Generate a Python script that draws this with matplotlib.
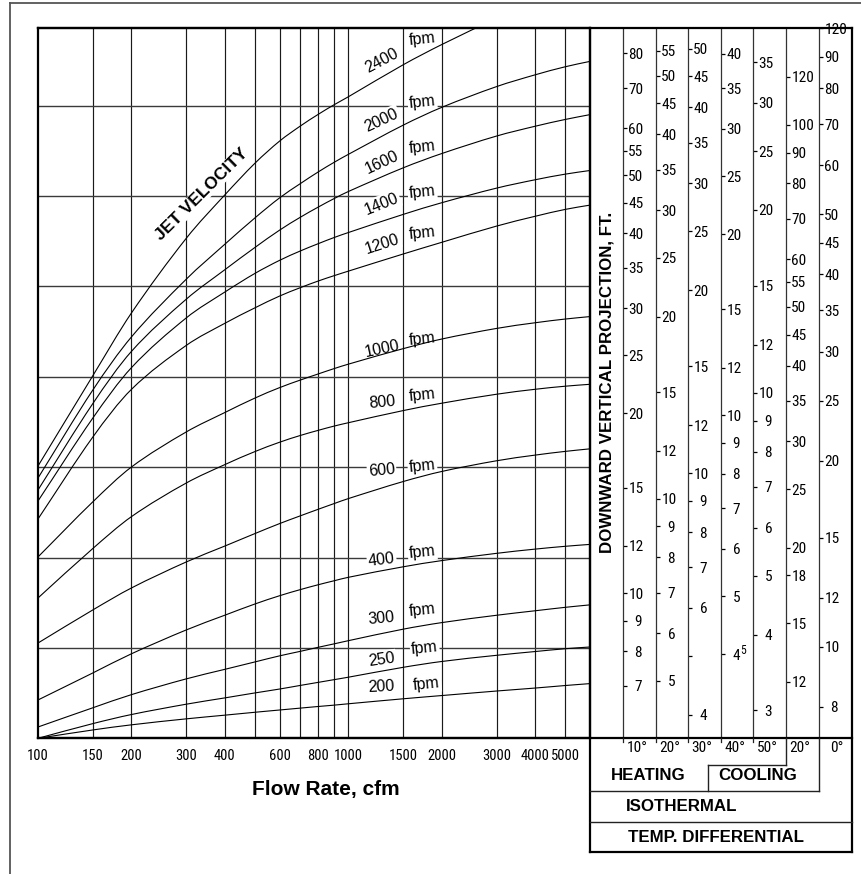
import os
import numpy as np
import matplotlib
matplotlib.use("Agg")
import matplotlib.pyplot as plt
from matplotlib import font_manager
from matplotlib.font_manager import FontProperties
from matplotlib.ticker import NullLocator
from matplotlib.path import Path
from matplotlib.patches import PathPatch

W, H, DPI = 861, 874, 100

_names = {f.name for f in font_manager.fontManager.ttflist}
SANS = "Liberation Sans" if "Liberation Sans" in _names else "DejaVu Sans"
SFAM = [SANS, "DejaVu Sans"]


def _find_condensed():
    prefs = ["liberationsansnarrow-regular", "liberationsansnarrow", "arialn", "robotocondensed-regular",
             "notosans-condensed", "opensans-condensed", "dejavusanscondensed"]
    found = {}
    for f in font_manager.fontManager.ttflist:
        base = os.path.splitext(os.path.basename(f.fname))[0].lower()
        found[base] = f.fname
    for p in prefs:
        if p in found:
            return found[p]
    for base, path in found.items():
        if ("condensed" in base or "narrow" in base) and not any(
                k in base for k in ("bold", "italic", "oblique", "light", "thin", "black", "medium", "semi", "extra")):
            return path
    return None


_COND = _find_condensed()


def nfp(size):
    if _COND:
        return FontProperties(fname=_COND, size=size)
    return FontProperties(family=SFAM, size=size * 0.84)


# ---------------- data ----------------
flow_cfm = [100, 150, 200, 300, 400, 500, 600, 700, 800, 900, 1000, 1500, 2000, 3000, 4000, 5000, 6000]
flow_ticks = [100, 150, 200, 300, 400, 600, 800, 1000, 1500, 2000, 3000, 4000, 5000]
flow_tick_labels = ["100", "150", "200", "300", "400", "600", "800", "1000", "1500", "2000", "3000", "4000", "5000"]
flow_grid = [150, 200, 300, 400, 500, 600, 700, 800, 900, 1000, 1500, 2000, 3000, 4000, 5000]

velocities = [200, 250, 300, 400, 600, 800, 1000, 1200, 1400, 1600, 2000, 2400]
# curve heights in chart grid units (one unit per horizontal grid line)
v200 = [0.000, 0.092, 0.149, 0.215, 0.256, 0.288, 0.313, 0.334, 0.352, 0.367, 0.382, 0.437, 0.473, 0.523, 0.556, 0.584, 0.605]
v250 = [0.000, 0.162, 0.263, 0.377, 0.447, 0.502, 0.545, 0.585, 0.619, 0.649, 0.676, 0.785, 0.850, 0.918, 0.960, 0.991, 1.010]
v300 = [0.125, 0.337, 0.483, 0.657, 0.763, 0.845, 0.912, 0.962, 1.007, 1.045, 1.080, 1.207, 1.280, 1.361, 1.411, 1.449, 1.476]
v400 = [0.424, 0.722, 0.935, 1.198, 1.362, 1.486, 1.577, 1.645, 1.699, 1.743, 1.781, 1.897, 1.966, 2.046, 2.093, 2.124, 2.145]
v600 = [1.054, 1.419, 1.663, 1.950, 2.127, 2.265, 2.375, 2.461, 2.534, 2.597, 2.652, 2.840, 2.952, 3.070, 3.133, 3.174, 3.202]
v800 = [1.552, 2.098, 2.452, 2.823, 3.028, 3.172, 3.275, 3.350, 3.407, 3.454, 3.491, 3.625, 3.707, 3.806, 3.861, 3.895, 3.916]
v1000 = [2.006, 2.614, 3.001, 3.388, 3.604, 3.764, 3.879, 3.963, 4.031, 4.090, 4.139, 4.310, 4.417, 4.534, 4.597, 4.638, 4.665]
v1200 = [2.426, 3.330, 3.860, 4.345, 4.591, 4.762, 4.892, 4.985, 5.059, 5.118, 5.168, 5.357, 5.487, 5.666, 5.775, 5.851, 5.898]
v1400 = [2.625, 3.540, 4.100, 4.649, 4.937, 5.143, 5.287, 5.391, 5.472, 5.540, 5.595, 5.795, 5.925, 6.086, 6.179, 6.241, 6.281]
v1600 = [2.747, 3.700, 4.280, 4.856, 5.184, 5.430, 5.621, 5.764, 5.877, 5.971, 6.049, 6.310, 6.469, 6.662, 6.771, 6.846, 6.899]
v2000 = [2.879, 3.850, 4.440, 5.077, 5.466, 5.757, 5.978, 6.136, 6.266, 6.372, 6.460, 6.782, 6.980, 7.209, 7.340, 7.429, 7.488]
v2400 = [3.012, 4.008, 4.705, 5.529, 6.012, 6.362, 6.606, 6.773, 6.903, 7.009, 7.097, 7.450, 7.675, 7.966]
curve_values = [v200, v250, v300, v400, v600, v800, v1000, v1200, v1400, v1600, v2000, v2400]

# label placement (flow, grid units, rotation)
num_label_flow = 1280
fpm_label_flow = [1785, 1760, 1730, 1730, 1730, 1730, 1730, 1730, 1730, 1730, 1730, 1730]
num_label_u = [0.57, 0.87, 1.33, 1.97, 2.96, 3.72, 4.31, 5.47, 5.91, 6.375, 6.84, 7.50]
fpm_label_u = [0.60, 1.00, 1.42, 2.06, 3.01, 3.80, 4.41, 5.59, 6.04, 6.54, 7.04, 7.735]
num_label_rot = [3, 8, 5, 7, 5, 5, 12, 18, 22, 25, 25, 28]

# vertical projection scales (one per column)
col_titles = ["10°", "20°", "30°", "40°", "50°", "20°", "0°"]
c1_vals = [80, 70, 60, 55, 50, 45, 40, 35, 30, 25, 20, 15, 12, 10, 9, 8, 7]
c2_vals = [55, 50, 45, 40, 35, 30, 25, 20, 15, 12, 10, 9, 8, 7, 6, 5]
c3_vals = [50, 45, 40, 35, 30, 25, 20, 15, 12, 10, 9, 8, 7, 6, 5, 4]
c4_vals = [40, 35, 30, 25, 20, 15, 12, 10, 9, 8, 7, 6, 5, 4]
c5_vals = [35, 30, 25, 20, 15, 12, 10, 9, 8, 7, 6, 5, 4, 3]
c6_vals = [120, 100, 90, 80, 70, 60, 55, 50, 45, 40, 35, 30, 25, 20, 18, 15, 12]
c7_vals = [100, 90, 80, 70, 60, 50, 45, 40, 35, 30, 25, 20, 15, 12, 10, 8]
col_vals = [c1_vals, c2_vals, c3_vals, c4_vals, c5_vals, c6_vals, c7_vals]
label_override = {(2, 5): "", (6, 100): "120"}
superscript_note = (3, 4, "5")  # column, value, raised mark printed next to the label
col_limits = [(5.72, 88.1), (4.02, 59.9), (3.66, 54.0), (2.90, 44.06), (2.70, 39.8), (9.68, 144.4), (7.11, 99.7)]

# ---------------- layout helpers ----------------
TOP, BOT = 28.3, 738.3
LEFT, RIGHT = 38.0, 590.0
COL_EDGES = [623, 656, 688, 721, 753, 786, 819, 852]


def rect(x0, y0, x1, y1):
    return [x0 / W, 1 - y1 / H, (x1 - x0) / W, (y1 - y0) / H]


def smooth_curve(axes, xs, ys, **kw):
    """Draw a smooth (cubic Hermite) line through the read points on the log-x axis."""
    t = np.log10(np.asarray(xs, float))
    y = np.asarray(ys, float)
    n = len(t)
    m = np.empty(n)
    m[0] = (y[1] - y[0]) / (t[1] - t[0])
    m[-1] = (y[-1] - y[-2]) / (t[-1] - t[-2])
    for i in range(1, n - 1):
        m[i] = (y[i + 1] - y[i - 1]) / (t[i + 1] - t[i - 1])
    verts = [(t[0], y[0])]
    codes = [Path.MOVETO]
    for i in range(n - 1):
        h = t[i + 1] - t[i]
        verts += [(t[i] + h / 3, y[i] + m[i] * h / 3),
                  (t[i + 1] - h / 3, y[i + 1] - m[i + 1] * h / 3),
                  (t[i + 1], y[i + 1])]
        codes += [Path.CURVE4] * 3
    V = np.array(verts)
    V[:, 0] = 10 ** V[:, 0]
    axes.add_patch(PathPatch(Path(V, codes), fill=False, **kw))


fig = plt.figure(figsize=(W / DPI, H / DPI), dpi=DPI)
fig.patch.set_facecolor("white")

# ---------------- main chart ----------------
ax = fig.add_axes(rect(LEFT, TOP, RIGHT, BOT))
ax.set_xscale("log")
ax.set_xlim(100, 6000)
ax.set_ylim(0, 7.854)
for f in flow_grid:
    ax.axvline(f, color="#1a1a1a", lw=0.85, zorder=1)
for u in range(1, 8):
    ax.axhline(u, color="#3a3a3a", lw=1.0, zorder=1)
for ys in curve_values:
    smooth_curve(ax, flow_cfm[:len(ys)], ys, edgecolor="black", lw=0.8, zorder=3)

box = dict(facecolor="white", edgecolor="none", pad=1.0)
for i, v in enumerate(velocities):
    ax.text(num_label_flow, num_label_u[i], str(v), rotation=num_label_rot[i], rotation_mode="anchor",
            ha="center", va="center", fontsize=11.5, family=SFAM, bbox=box, zorder=2)
    ax.text(fpm_label_flow[i], fpm_label_u[i], "fpm", rotation=6, rotation_mode="anchor",
            ha="center", va="center", fontsize=11.5, family=SFAM, bbox=box, zorder=2)
ax.text(337, 6.02, "JET VELOCITY", rotation=44.7, rotation_mode="anchor", ha="center", va="center",
        fontsize=12.5, fontweight="bold", family=SFAM, bbox=dict(facecolor="white", edgecolor="none", pad=0.5),
        zorder=2)

ax.set_xticks(flow_ticks)
ax.set_xticklabels(flow_tick_labels, fontproperties=nfp(10.5))
ax.xaxis.set_minor_locator(NullLocator())
ax.set_yticks([])
ax.tick_params(axis="x", length=0, pad=7.5)
for s in ax.spines.values():
    s.set_linewidth(1.6)
    s.set_color("black")

# ---------------- projection scales ----------------
for i, (vals, lim) in enumerate(zip(col_vals, col_limits)):
    cax = fig.add_axes(rect(COL_EDGES[i], TOP, COL_EDGES[i + 1], BOT))
    cax.patch.set_alpha(0)
    cax.set_yscale("log")
    cax.set_ylim(*lim)
    cax.set_xlim(0, 1)
    labels = []
    for v in vals:
        lab = label_override.get((i, v), str(v) if v >= 10 else "  " + str(v))
        labels.append(lab)
    cax.set_yticks(vals)
    cax.set_yticklabels(labels, fontproperties=nfp(11))
    cax.yaxis.set_minor_locator(NullLocator())
    cax.set_xticks([])
    cax.tick_params(axis="y", direction="in", length=3.2, width=0.9, pad=-3.8, colors="black")
    for lbl in cax.get_yticklabels():
        lbl.set_ha("left")
    for k in ("top", "right", "bottom"):
        cax.spines[k].set_visible(False)
    cax.spines["left"].set_linewidth(0.9)
    cax.spines["left"].set_color("#333333")
    cax.text(0.43 if i < 6 else 0.55, -0.013, col_titles[i], transform=cax.transAxes, ha="center", va="center",
             fontproperties=nfp(11))
    if superscript_note[0] == i:
        cax.annotate(superscript_note[2], xy=(0.0, superscript_note[1]), xycoords=("axes fraction", "data"),
                     xytext=(19, 4), textcoords="offset pixels", ha="left", va="center",
                     fontproperties=nfp(8.5))

# ---------------- frame, table and titles ----------------
ov = fig.add_axes([0, 0, 1, 1], zorder=10)
ov.set_xlim(0, W)
ov.set_ylim(H, 0)
ov.axis("off")
ov.patch.set_alpha(0)

outer = [((10, 3.3), (861, 3.3)), ((10, 3.3), (10, 874))]
for (a, b) in outer:
    ov.plot([a[0], b[0]], [a[1], b[1]], color="#555555", lw=1.3)

heavy = [((RIGHT, TOP), (RIGHT, 852)), ((852, TOP), (852, 852)), ((LEFT, TOP), (852, TOP)),
         ((LEFT, BOT), (852, BOT)), ((590, 851.7), (852, 851.7))]
for (a, b) in heavy:
    ov.plot([a[0], b[0]], [a[1], b[1]], color="black", lw=1.6, solid_capstyle="projecting")

thin = [((786, BOT), (786, 765)), ((708, 765), (786, 765)), ((708, 765), (708, 790.7)),
        ((819, BOT), (819, 790.7)), ((590, 790.7), (819, 790.7)), ((590, 821.7), (852, 821.7))]
for (a, b) in thin:
    ov.plot([a[0], b[0]], [a[1], b[1]], color="#222222", lw=1.0)
for xe in COL_EDGES[:5]:
    ov.plot([xe, xe], [BOT, BOT + 4], color="#222222", lw=0.9)

ov.text(607, 382, "DOWNWARD VERTICAL PROJECTION, FT.", rotation=90, ha="center", va="center",
        fontsize=12.2, fontweight="bold", family=SFAM)
ov.text(326, 790, "Flow Rate, cfm", ha="center", va="center", fontsize=15, fontweight="bold", family=SFAM)
ov.text(648, 776, "HEATING", ha="center", va="center", fontsize=12.2, fontweight="bold", family=SFAM)
ov.text(758, 776, "COOLING", ha="center", va="center", fontsize=12.2, fontweight="bold", family=SFAM)
ov.text(682, 806.5, "ISOTHERMAL", ha="center", va="center", fontsize=12.2, fontweight="bold", family=SFAM)
ov.text(716, 837, "TEMP. DIFFERENTIAL", ha="center", va="center", fontsize=12.2, fontweight="bold", family=SFAM)

fig.savefig("out.png", dpi=DPI, facecolor="white")
